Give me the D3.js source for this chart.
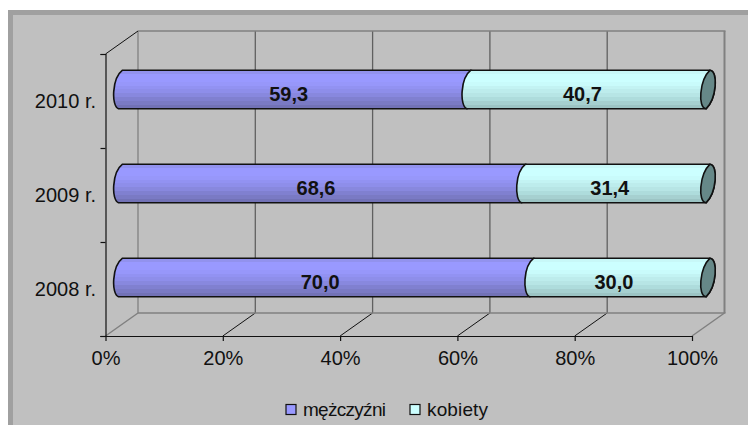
<!DOCTYPE html>
<html><head><meta charset="utf-8">
<script src="https://cdn.jsdelivr.net/npm/d3@7"></script>
<style>html,body{margin:0;padding:0;background:#fff}svg{display:block}text{font-family:"Liberation Sans",Arial,sans-serif;fill:#111}</style>
</head><body><script>
const categories = ["2010 r.","2009 r.","2008 r."];
const men = [59.3,68.6,70.0];
const women = [40.7,31.4,30.0];
const menLabels = ["59,3","68,6","70,0"];
const womenLabels = ["40,7","31,4","30,0"];
const ticks = [0,20,40,60,80,100];
const seriesNames = ["mężczyźni","kobiety"];

const W=748,H=425;
const svg=d3.select("body").append("svg").attr("width",W).attr("height",H);
const defs=svg.append("defs");
function grad(id,cols){
  const g=defs.append("linearGradient").attr("id",id).attr("x1",0).attr("x2",0).attr("y1",0).attr("y2",1);
  cols.forEach((c,i)=>{
    g.append("stop").attr("offset",i/cols.length).attr("stop-color",c);
    g.append("stop").attr("offset",(i+1)/cols.length).attr("stop-color",c);
  });
}
grad("gm",["#9292ee","#9999ff","#9999ff","#9797fa","#9292f2","#8e8eea","#8888de","#8080d0","#7a7ac4","#7272b6"]);
grad("gw",["#c8f8f8","#ccffff","#ccffff","#c9fbfb","#c3f3f3","#bdecec","#b7e5e5","#aedcdc","#a6d0d0","#9cc4c4"]);

// frame
svg.append("rect").attr("x",8).attr("y",10).attr("width",W-8).attr("height",H-10).attr("fill","#a0a0a0");
svg.append("rect").attr("x",13).attr("y",15).attr("width",W-13).attr("height",H-15).attr("fill","#c0c0c0");

const x=d3.scaleLinear().domain([0,100]).range([105.5,692]);
const y=d3.scaleBand().domain(categories).range([54,336]);
const dx=32.5,dy=-23;
const floorY=y.range()[1], topY=y.range()[0];

// back wall + floor
const wall=svg.append("g").attr("fill","none");
ticks.forEach(t=>{
  wall.append("line").attr("x1",x(t)+dx).attr("x2",x(t)+dx).attr("y1",topY+dy).attr("y2",floorY+dy)
    .attr("stroke",t===100||t===0?"#808080":"#606060").attr("stroke-width",t===100?2:1.3);
  wall.append("line").attr("x1",x(t)).attr("x2",x(t)+dx).attr("y1",floorY).attr("y2",floorY+dy)
    .attr("stroke",t===100||t===0?"#808080":"#111").attr("stroke-width",t===100||t===0?1.5:1);
});
wall.append("line").attr("x1",x(0)+dx).attr("x2",x(100)+dx+1).attr("y1",topY+dy).attr("y2",topY+dy).attr("stroke","#808080").attr("stroke-width",1.5);
wall.append("line").attr("x1",x(0)+dx).attr("x2",x(100)+dx+1).attr("y1",floorY+dy).attr("y2",floorY+dy).attr("stroke","#808080").attr("stroke-width",1.5);
wall.append("line").attr("x1",x(0)).attr("x2",x(0)+dx).attr("y1",topY).attr("y2",topY+dy).attr("stroke","#111").attr("stroke-width",1);

// axes
const xAxis=d3.axisBottom(x).tickValues(ticks).tickSize(5).tickPadding(10).tickFormat(d=>d+"%");
const gx=svg.append("g").attr("transform",`translate(0,${floorY})`).call(xAxis);
const yAxis=d3.axisLeft(d3.scaleLinear().domain([0,3]).range([floorY,topY])).tickValues([0,1,2,3]).tickSize(5).tickFormat("");
const gy=svg.append("g").attr("transform",`translate(${x(0)},0)`).call(yAxis);
[gx,gy].forEach(g=>{g.selectAll("path,line").attr("stroke","#111").attr("stroke-width",1.2);});
gx.select("path").attr("d",`M${x(0)-5},0.5H${x(100)}`);
gx.selectAll("text").attr("font-size",20).attr("fill","#111");
categories.forEach(c=>{
  svg.append("text").attr("x",96).attr("y",y(c)+y.bandwidth()/2+7).attr("text-anchor","end").attr("font-size",20).text(c);
});

// bars
const bx=d3.scaleLinear().domain([0,100]).range([120.5,708]);
const halfH=19.3, rx=7.5, slant=2;
const barCy=c=>y(c)+y.bandwidth()/2+dy/2;
function seg(a,b,cy){
  const xa=bx(a),xb=bx(b),t=cy-halfH,bm=cy+halfH;
  return `M${xa+slant},${t}L${xb+slant},${t}`+
    `C${xb+rx+3},${t+1} ${xb+rx+1},${bm-10} ${xb-slant},${bm}`+
    `L${xa-slant},${bm}`+
    `C${xa-rx-2},${bm-3} ${xa-rx-1},${t+8} ${xa+slant},${t}Z`;
}
function cap(b,cy){
  const xb=bx(b),t=cy-halfH,bm=cy+halfH;
  return `M${xb+slant},${t}C${xb+rx+3},${t+1} ${xb+rx+1},${bm-10} ${xb-slant},${bm}`+
    `C${xb-rx-3},${bm-1} ${xb-rx-1},${t+10} ${xb+slant},${t}Z`;
}
const bars=svg.append("g");
categories.forEach((c,i)=>{
  const cy=barCy(c);
  bars.append("path").attr("d",seg(0,men[i],cy)).attr("fill","url(#gm)").attr("stroke","#111").attr("stroke-width",1.6);
  bars.append("path").attr("d",seg(men[i],men[i]+women[i],cy)).attr("fill","url(#gw)").attr("stroke","#111").attr("stroke-width",1.6);
  bars.append("path").attr("d",cap(men[i]+women[i],cy)).attr("fill","#668888").attr("stroke","#111").attr("stroke-width",1.6);
  const ly=cy+11.5;
  bars.append("text").attr("x",bx(men[i]/2)-6).attr("y",ly).attr("text-anchor","middle").attr("font-size",20).attr("font-weight","bold").text(menLabels[i]);
  bars.append("text").attr("x",bx(men[i]+women[i]/2)-6).attr("y",ly).attr("text-anchor","middle").attr("font-size",20).attr("font-weight","bold").text(womenLabels[i]);
});

// legend
const lg=svg.append("g");
const legendX=[286,410], fills=["#9999ff","#ccffff"], legendW=[83,61];
seriesNames.forEach((n,i)=>{
  lg.append("rect").attr("x",legendX[i]).attr("y",404.5).attr("width",10).attr("height",10).attr("fill",fills[i]).attr("stroke","#111").attr("stroke-width",1.2);
  lg.append("text").attr("x",legendX[i]+17).attr("y",415.5).attr("font-size",19).attr("textLength",legendW[i]).attr("lengthAdjust","spacing").text(n);
});
</script></body></html>
